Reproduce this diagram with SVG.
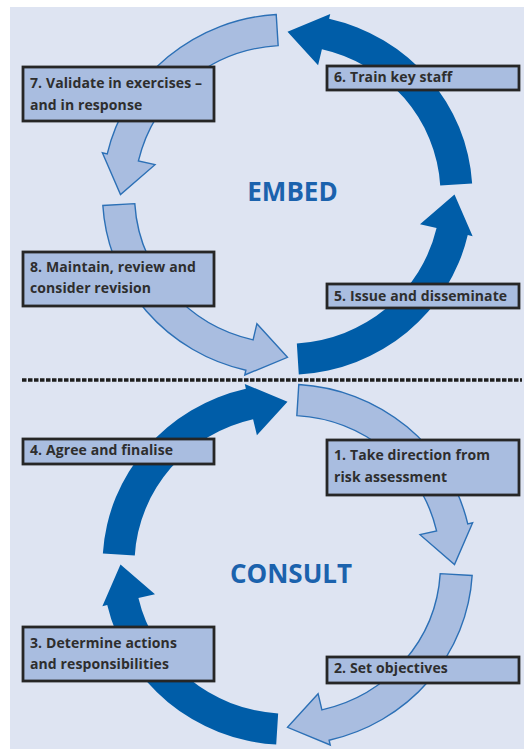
<svg xmlns="http://www.w3.org/2000/svg" xmlns:xlink="http://www.w3.org/1999/xlink" width="524" height="749" viewBox="0 0 524 749">
<style>
.bg{fill:#dee4f2}
.dark{fill:#005da8;stroke:none}
.light{fill:#a9bde0;stroke:#2c70b6;stroke-width:1.4;stroke-linejoin:miter}
.box{fill:#a9bde0;stroke:#262626;stroke-width:2.8}
.lbl{font-family:"Open Sans","Liberation Sans",sans-serif;font-weight:bold;font-size:14px;fill:#2e2e2e;letter-spacing:0.1px}
.big{font-family:"Open Sans","Liberation Sans",sans-serif;font-weight:bold;font-size:26px;fill:#1b62ad;text-anchor:middle}
.sep{stroke:#1e1e1e;stroke-width:3.5;stroke-dasharray:4.5 1.5;fill:none}
</style>
<defs>
<path id="arc" d="M184.65,-11.29 A185,185 0 0 0 41.62,-180.26 L42.74,-185.13 L0,-167 L30.59,-132.51 L34.42,-149.08 A153,153 0 0 1 152.71,-9.34 Z"/>
</defs>
<rect class="bg" x="10" y="7" width="514" height="742"/>
<g id="connectors">
<use xlink:href="#arc" href="#arc" class="dark" transform="translate(287.5,194.5) scale(1,0.975)"/>
<use xlink:href="#arc" href="#arc" class="light" transform="translate(287.5,194.5) scale(1,0.975) rotate(-90)"/>
<use xlink:href="#arc" href="#arc" class="light" transform="translate(287.5,194.5) scale(1,0.975) rotate(180)"/>
<use xlink:href="#arc" href="#arc" class="dark" transform="translate(287.5,194.5) scale(1,0.975) rotate(90)"/>
<use xlink:href="#arc" href="#arc" class="light" transform="translate(287.5,564.5) scale(1,0.975) rotate(-90) scale(1,-1)"/>
<use xlink:href="#arc" href="#arc" class="light" transform="translate(287.5,564.5) scale(1,0.975) scale(1,-1)"/>
<use xlink:href="#arc" href="#arc" class="dark" transform="translate(287.5,564.5) scale(1,0.975) rotate(90) scale(1,-1)"/>
<use xlink:href="#arc" href="#arc" class="dark" transform="translate(287.5,564.5) scale(1,0.975) rotate(180) scale(1,-1)"/>
</g>
<line class="sep" x1="22" y1="380" x2="522" y2="380"/>
<text class="big" x="292.5" y="201">EMBED</text>
<text class="big" x="291" y="583">CONSULT</text>
<g id="step7"><rect class="box" x="23" y="67" width="191" height="54"/><text class="lbl" x="30" y="88">7. Validate in exercises –</text><text class="lbl" x="30" y="110">and in response</text></g>
<g id="step6"><rect class="box" x="327" y="66" width="192" height="24"/><text class="lbl" x="334" y="82">6. Train key staff</text></g>
<g id="step8"><rect class="box" x="23" y="252" width="191" height="54"/><text class="lbl" x="30" y="272">8. Maintain, review and</text><text class="lbl" x="30" y="293">consider revision</text></g>
<g id="step5"><rect class="box" x="327" y="284" width="192" height="24"/><text class="lbl" x="334" y="301">5. Issue and disseminate</text></g>
<g id="step4"><rect class="box" x="23" y="439" width="191" height="25"/><text class="lbl" x="30" y="455">4. Agree and finalise</text></g>
<g id="step1"><rect class="box" x="327" y="440" width="192" height="55"/><text class="lbl" x="334" y="460">1. Take direction from</text><text class="lbl" x="334" y="482">risk assessment</text></g>
<g id="step3"><rect class="box" x="23" y="627" width="191" height="54"/><text class="lbl" x="30" y="648">3. Determine actions</text><text class="lbl" x="30" y="669">and responsibilities</text></g>
<g id="step2"><rect class="box" x="327" y="657" width="192" height="26"/><text class="lbl" x="334" y="673">2. Set objectives</text></g>
</svg>
